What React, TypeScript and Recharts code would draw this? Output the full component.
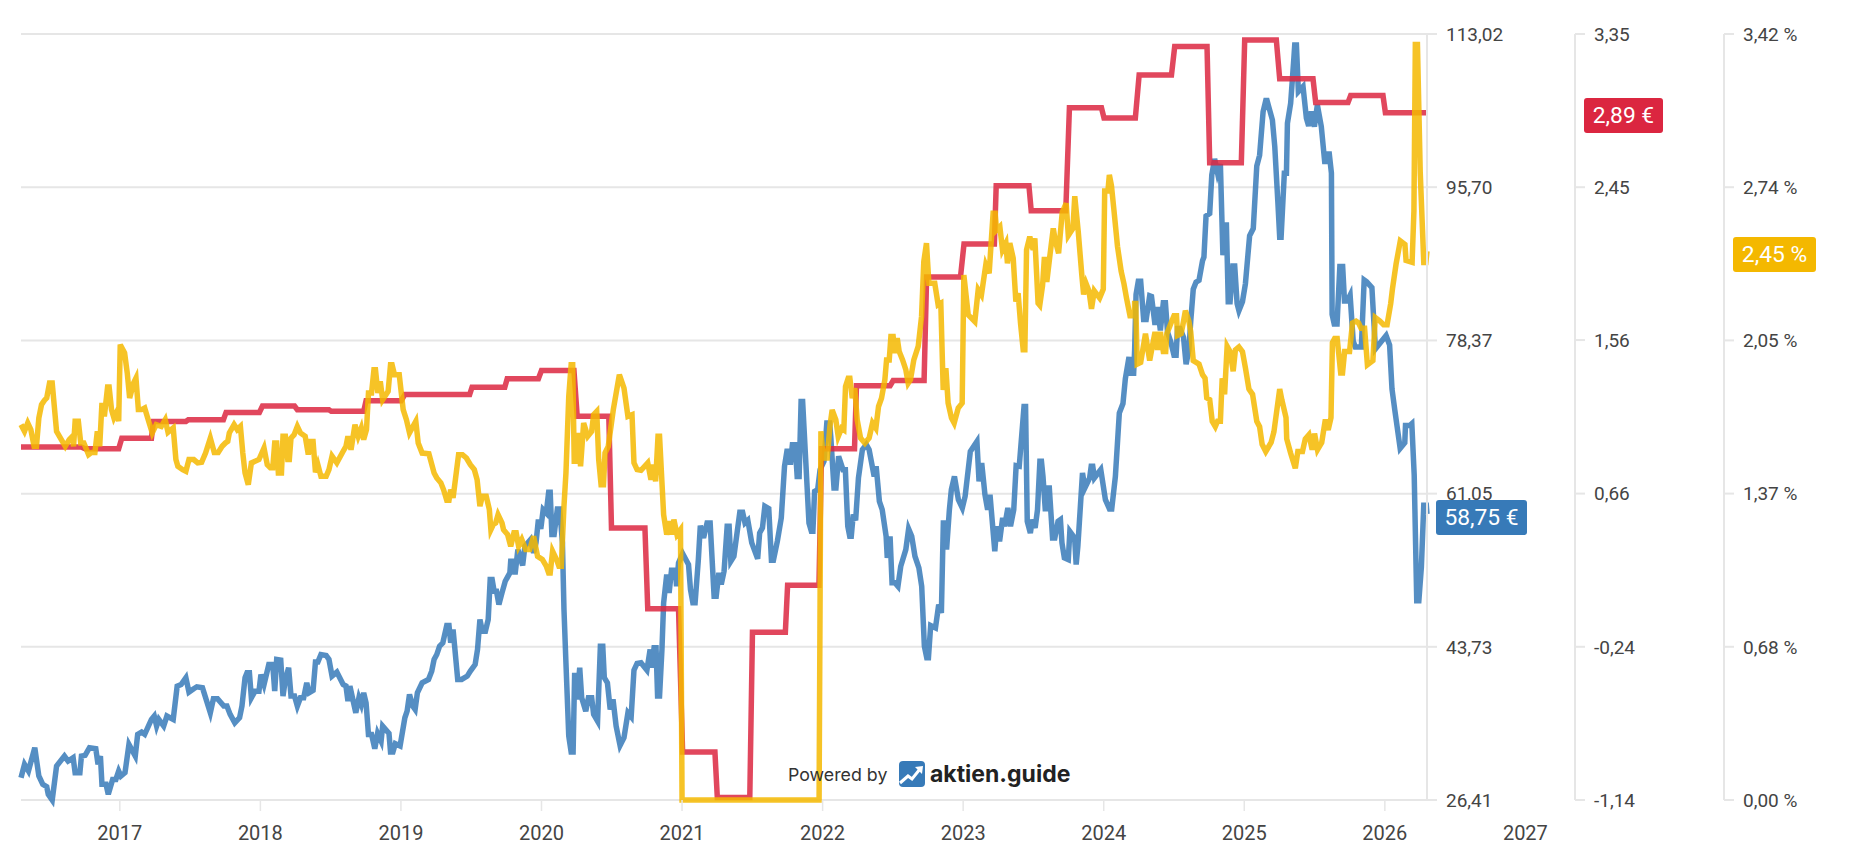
import React from "react";
import { LineChart, Line, XAxis, YAxis, CartesianGrid } from "recharts";

// Share price in EUR: [decimal year, value]
const pricePoints: [number, number][] = [
[2016.297,28.93],[2016.322,30.44],[2016.35,29.69],[2016.395,32.32],[2016.424,29.12],[2016.452,28.18],[2016.48,27.92],[2016.491,27.05],[2016.519,26.41],[2016.55,30.25],[2016.606,31.38],[2016.632,30.81],[2016.668,31.19],[2016.682,29.5],[2016.716,29.5],[2016.727,31.38],[2016.753,31.46],[2016.784,32.32],[2016.829,32.21],[2016.845,30.44],[2016.862,31.38],[2016.873,28.18],[2016.902,28.18],[2016.918,27.05],[2016.949,28.74],[2016.972,28.74],[2016.992,29.69],
[2017.008,29.12],[2017.037,29.5],[2017.065,32.7],[2017.11,31.38],[2017.127,33.83],[2017.155,34.09],[2017.177,33.83],[2017.225,35.52],[2017.245,35.9],[2017.262,34.77],[2017.278,35.52],[2017.312,34.77],[2017.335,35.9],[2017.38,35.52],[2017.408,39.29],[2017.436,39.47],[2017.47,40.23],[2017.492,38.61],[2017.526,38.99],[2017.548,39.21],[2017.588,39.1],[2017.644,36.27],[2017.666,37.86],[2017.695,37.86],[2017.74,37.03],[2017.762,37.03],[2017.785,36.09],[2017.818,35.14],[2017.852,35.71],[2017.869,37.03],[2017.891,40.23],[2017.905,40.79],[2017.922,40.79],[2017.936,37.97],[2017.962,38.72],[2017.99,38.72],
[2018.004,40.6],[2018.026,39.47],[2018.06,41.73],[2018.088,41.73],[2018.102,38.72],[2018.116,42.3],[2018.145,42.22],[2018.161,38.16],[2018.178,40.04],[2018.201,41.36],[2018.218,38.16],[2018.243,38.16],[2018.263,37.03],[2018.285,37.97],[2018.308,37.97],[2018.33,39.66],[2018.347,38.53],[2018.375,38.8],[2018.392,42],[2018.409,42],[2018.431,42.86],[2018.468,42.75],[2018.488,42.3],[2018.51,40.42],[2018.544,40.87],[2018.589,39.47],[2018.609,39.29],[2018.623,37.59],[2018.637,39.29],[2018.679,36.27],[2018.701,37.97],[2018.718,37.22],[2018.735,38.53],[2018.752,37.4],[2018.769,33.83],[2018.791,33.83],[2018.814,32.21],[2018.834,33.94],[2018.859,33.07],[2018.87,34.77],[2018.915,33.94],[2018.926,31.83],[2018.943,31.83],[2018.96,32.77],[2018.994,32.51],
[2019.028,35.71],[2019.044,36.46],[2019.061,38.34],[2019.084,37.03],[2019.101,36.65],[2019.117,38.53],[2019.151,39.66],[2019.196,40.04],[2019.219,40.98],[2019.236,42.3],[2019.255,42.86],[2019.275,43.8],[2019.298,44.18],[2019.326,46.14],[2019.342,46.14],[2019.354,44.18],[2019.371,45.69],[2019.404,40.04],[2019.432,40.04],[2019.472,40.42],[2019.494,40.98],[2019.528,41.73],[2019.545,43.43],[2019.562,46.82],[2019.579,45.5],[2019.601,45.5],[2019.621,46.82],[2019.635,51.33],[2019.649,51.33],[2019.663,50.02],[2019.68,50.02],[2019.697,48.51],[2019.719,49.83],[2019.742,51.14],[2019.775,52.09],[2019.781,53.4],[2019.804,53.4],[2019.812,51.9],[2019.832,54.72],[2019.866,52.92],[2019.882,55.1],[2019.922,55.85],[2019.944,54.35],[2019.961,55.48],[2019.978,58.11],[2019.995,57.06],
[2020.012,59.24],[2020.034,58.86],[2020.051,61.2],[2020.062,61.2],[2020.074,56.42],[2020.09,56.42],[2020.113,59.32],[2020.13,59.32],[2020.149,55.48],[2020.16,47.95],[2020.174,41.92],[2020.194,33.64],[2020.211,31.83],[2020.225,31.83],[2020.236,40.79],[2020.253,37.78],[2020.272,41.36],[2020.286,37.97],[2020.315,36.46],[2020.334,37.97],[2020.357,37.97],[2020.371,36.09],[2020.399,35.33],[2020.419,43.8],[2020.436,43.8],[2020.447,40.23],[2020.469,39.66],[2020.489,36.65],[2020.509,37.78],[2020.531,34.77],[2020.559,32.58],[2020.587,33.45],[2020.615,36.27],[2020.638,35.82],[2020.658,41.09],[2020.68,41.85],[2020.708,41.92],[2020.75,41.09],[2020.773,43.43],[2020.784,41.36],[2020.801,43.62],[2020.815,43.62],[2020.826,38.16],[2020.84,38.16],[2020.857,43.43],[2020.869,48.7],[2020.891,51.9],[2020.908,49.83],[2020.925,52.39],[2020.953,52.39],[2020.961,50.58],[2020.975,53.22],
[2021.004,54.27],[2021.046,53.03],[2021.06,50.21],[2021.077,48.7],[2021.093,48.7],[2021.116,53.59],[2021.13,57.43],[2021.153,56.04],[2021.178,57.73],[2021.2,57.73],[2021.228,49.45],[2021.243,49.45],[2021.262,52.09],[2021.279,50.77],[2021.299,52.28],[2021.321,57.36],[2021.335,57.36],[2021.347,53.4],[2021.369,53.97],[2021.411,58.94],[2021.431,58.94],[2021.448,57.73],[2021.468,58.03],[2021.496,55.48],[2021.538,53.67],[2021.552,56.6],[2021.572,57.17],[2021.589,59.62],[2021.617,59.35],[2021.636,53.52],[2021.65,53.52],[2021.678,55.66],[2021.706,58.3],[2021.729,64.14],[2021.746,65.83],[2021.763,65.83],[2021.771,64.32],[2021.785,66.58],[2021.805,66.58],[2021.819,63],[2021.833,63],[2021.847,71.47],[2021.858,71.47],[2021.881,64.51],[2021.903,57.73],[2021.92,56.79],[2021.931,56.79],[2021.943,61.31],[2021.965,61.5],[2021.982,63.76],
[2022.01,64.7],[2022.03,69.03],[2022.05,69.03],[2022.058,67.52],[2022.081,61.69],[2022.095,61.69],[2022.114,65.27],[2022.145,63.76],[2022.162,63.76],[2022.179,57.36],[2022.193,56.23],[2022.204,56.23],[2022.218,58.68],[2022.235,58.03],[2022.255,62.82],[2022.283,66.02],[2022.311,66.58],[2022.331,66.02],[2022.367,63],[2022.381,64.14],[2022.404,60.18],[2022.424,59.24],[2022.452,56.23],[2022.46,53.78],[2022.48,56.23],[2022.494,50.96],[2022.516,50.96],[2022.536,50.58],[2022.556,52.84],[2022.592,54.72],[2022.612,57.06],[2022.634,56.23],[2022.657,53.97],[2022.685,52.65],[2022.705,50.58],[2022.724,43.8],[2022.741,42.49],[2022.753,42.49],[2022.769,46.14],[2022.803,45.87],[2022.826,48.51],[2022.845,47.57],[2022.859,57.73],[2022.874,57.73],[2022.882,54.72],[2022.902,59.24],[2022.916,61.5],[2022.938,63],[2022.966,60.37],[2022.994,59.43],
[2023.014,60.75],[2023.051,65.83],[2023.098,66.96],[2023.113,62.44],[2023.132,64.51],[2023.155,60.93],[2023.174,59.24],[2023.191,60.93],[2023.225,54.53],[2023.239,57.36],[2023.259,55.66],[2023.281,58.3],[2023.295,57.36],[2023.318,59.43],[2023.337,57.36],[2023.36,59.24],[2023.377,64.21],[2023.399,64.14],[2023.416,67.52],[2023.433,70.91],[2023.444,70.91],[2023.456,57.92],[2023.478,56.6],[2023.492,58.11],[2023.512,57.17],[2023.529,59.24],[2023.546,64.7],[2023.557,64.7],[2023.568,63],[2023.585,59.05],[2023.602,61.69],[2023.613,61.69],[2023.636,56.04],[2023.652,56.04],[2023.675,57.92],[2023.692,58.11],[2023.703,55.48],[2023.72,53.78],[2023.748,53.59],[2023.759,56.79],[2023.793,56.04],[2023.804,53.03],[2023.816,55.1],[2023.849,63.38],[2023.866,61.69],[2023.9,62.82],[2023.911,64.14],[2023.922,64.14],[2023.934,62.82],[2023.979,63.76],
[2024.012,60.37],[2024.041,59.32],[2024.057,59.32],[2024.083,63],[2024.111,70.16],[2024.137,71.24],[2024.154,74.06],[2024.18,76.49],[2024.195,74.67],[2024.213,74.67],[2024.22,77.29],[2024.23,83.55],[2024.246,85.05],[2024.263,85.05],[2024.284,80.73],[2024.302,80.73],[2024.327,83.43],[2024.34,83.35],[2024.365,80.12],[2024.383,82.14],[2024.403,79.51],[2024.424,82.62],[2024.439,82.62],[2024.454,79.31],[2024.479,78.1],[2024.5,76.69],[2024.515,76.69],[2024.525,79.72],[2024.543,79.72],[2024.568,78.71],[2024.586,75.68],[2024.606,77.29],[2024.619,80.53],[2024.637,84.16],[2024.657,84.97],[2024.678,85.17],[2024.703,87.39],[2024.713,87.8],[2024.728,92.44],[2024.754,92.72],[2024.769,97.09],[2024.789,98.9],[2024.81,97.29],[2024.83,98.3],[2024.848,88],[2024.86,91.43],[2024.873,91.43],[2024.886,82.75],[2024.899,82.75],[2024.919,86.79],[2024.932,86.79],[2024.949,82.55],[2024.962,81.74],[2024.987,82.75],
[2025.008,84.77],[2025.038,90.22],[2025.064,91.03],[2025.089,98.1],[2025.109,99.3],[2025.134,104.25],[2025.153,105.49],[2025.162,105.49],[2025.2,103.31],[2025.217,100.29],[2025.24,93.7],[2025.252,90.05],[2025.262,90.05],[2025.285,97.28],[2025.3,97.28],[2025.307,102.93],[2025.33,105.19],[2025.352,110.08],[2025.359,111.78],[2025.371,111.78],[2025.385,106.51],[2025.418,107.07],[2025.442,103.49],[2025.458,102.63],[2025.477,104.25],[2025.499,102.55],[2025.52,105],[2025.548,102.55],[2025.572,98.6],[2025.589,98.6],[2025.603,99.73],[2025.62,97.28],[2025.625,81.31],[2025.64,80.23],[2025.66,80.23],[2025.68,86.73],[2025.7,86.73],[2025.713,82.83],[2025.733,82.83],[2025.753,83.48],[2025.775,78.28],[2025.79,77.63],[2025.833,77.63],[2025.853,85.21],[2025.871,85],[2025.908,84.35],[2025.933,77.42],
[2026.009,78.93],[2026.034,77.85],[2026.051,72.87],[2026.071,70.49],[2026.109,66.16],[2026.142,66.81],[2026.147,68.76],[2026.177,68.76],[2026.192,68.97],[2026.209,63.13],[2026.227,48.93],[2026.242,48.93],[2026.26,52.74],[2026.277,59.75],[2026.295,59.75],[2026.3,58.75],
];

// Dividend per share in EUR: [decimal year, value]
const dividendPoints: [number, number][] = [
[2016.297,0.929],[2016.724,0.929],[2016.753,0.919],[2016.992,0.919],[2017.014,0.98],[2017.225,0.98],[2017.239,1.079],[2017.47,1.079],[2017.487,1.089],[2017.737,1.089],[2017.756,1.132],[2017.993,1.132],[2018.015,1.169],[2018.243,1.169],[2018.263,1.148],[2018.488,1.148],[2018.505,1.138],[2018.735,1.138],[2018.752,1.2],[2019.002,1.2],[2019.028,1.237],[2019.489,1.237],[2019.506,1.28],[2019.739,1.28],[2019.756,1.329],[2019.978,1.329],[2020.0,1.378],[2020.231,1.378],[2020.254,1.109],[2020.479,1.109],[2020.498,0.455],[2020.736,0.455],[2020.756,-0.019],[2020.975,-0.019],[2021.004,-0.859],[2021.234,-0.859],[2021.251,-1.126],[2021.482,-1.126],[2021.501,-0.156],[2021.735,-0.156],[2021.751,0.119],[2021.974,0.119],[2021.993,0.919],[2022.227,0.919],[2022.241,1.288],[2022.48,1.288],[2022.502,1.319],[2022.722,1.319],[2022.74,1.926],[2022.981,1.926],[2023.006,2.119],[2023.222,2.119],[2023.235,2.46],[2023.468,2.46],[2023.484,2.314],[2023.73,2.314],[2023.756,2.917],[2023.984,2.917],[2024.002,2.858],[2024.225,2.858],[2024.252,3.11],[2024.482,3.11],[2024.505,3.276],[2024.735,3.276],[2024.754,2.596],[2024.979,2.596],[2025.003,3.315],[2025.228,3.315],[2025.252,3.087],[2025.489,3.087],[2025.508,2.948],[2025.738,2.948],[2025.757,2.989],[2025.987,2.989],[2026.004,2.889],[2026.3,2.889],
];

// Dividend yield in %: [decimal year, value]
const yieldPoints: [number, number][] = [
[2016.297,1.676],[2016.322,1.646],[2016.345,1.683],[2016.367,1.654],[2016.39,1.579],[2016.407,1.579],[2016.424,1.706],[2016.443,1.765],[2016.463,1.784],[2016.48,1.795],[2016.5,1.862],[2016.519,1.862],[2016.536,1.743],[2016.55,1.646],[2016.584,1.609],[2016.612,1.579],[2016.64,1.609],[2016.663,1.624],[2016.671,1.579],[2016.682,1.691],[2016.705,1.691],[2016.722,1.594],[2016.744,1.594],[2016.778,1.542],[2016.8,1.552],[2016.823,1.552],[2016.84,1.646],[2016.857,1.579],[2016.873,1.773],[2016.89,1.713],[2016.913,1.844],[2016.924,1.844],[2016.941,1.743],[2016.958,1.706],[2016.98,1.735],[2016.992,1.691],
[2017.003,2.033],[2017.034,1.996],[2017.053,1.906],[2017.07,1.795],[2017.098,1.862],[2017.115,1.884],[2017.132,1.743],[2017.155,1.743],[2017.177,1.75],[2017.202,1.698],[2017.231,1.639],[2017.259,1.676],[2017.295,1.668],[2017.323,1.698],[2017.343,1.642],[2017.38,1.661],[2017.399,1.52],[2017.413,1.49],[2017.447,1.475],[2017.47,1.468],[2017.492,1.52],[2017.526,1.52],[2017.554,1.505],[2017.582,1.508],[2017.61,1.549],[2017.644,1.616],[2017.672,1.552],[2017.7,1.552],[2017.728,1.579],[2017.751,1.594],[2017.768,1.601],[2017.779,1.639],[2017.813,1.676],[2017.835,1.654],[2017.858,1.668],[2017.875,1.549],[2017.891,1.46],[2017.914,1.408],[2017.936,1.505],[2017.962,1.512],[2017.99,1.52],
[2018.026,1.572],[2018.049,1.497],[2018.071,1.483],[2018.088,1.483],[2018.102,1.594],[2018.116,1.594],[2018.128,1.46],[2018.15,1.46],[2018.161,1.624],[2018.178,1.624],[2018.195,1.52],[2018.206,1.52],[2018.218,1.616],[2018.24,1.631],[2018.263,1.668],[2018.285,1.639],[2018.319,1.624],[2018.341,1.542],[2018.355,1.601],[2018.375,1.601],[2018.392,1.463],[2018.409,1.497],[2018.431,1.445],[2018.468,1.445],[2018.488,1.475],[2018.51,1.535],[2018.544,1.505],[2018.589,1.557],[2018.609,1.579],[2018.623,1.624],[2018.645,1.564],[2018.673,1.676],[2018.696,1.624],[2018.718,1.661],[2018.735,1.609],[2018.755,1.654],[2018.769,1.817],[2018.791,1.817],[2018.808,1.921],[2018.819,1.921],[2018.836,1.817],[2018.853,1.869],[2018.87,1.787],[2018.909,1.825],[2018.926,1.943],[2018.937,1.943],[2018.954,1.899],[2018.988,1.899],
[2019.016,1.743],[2019.039,1.698],[2019.061,1.639],[2019.106,1.691],[2019.123,1.594],[2019.151,1.549],[2019.199,1.546],[2019.236,1.46],[2019.255,1.438],[2019.284,1.416],[2019.303,1.386],[2019.326,1.338],[2019.342,1.338],[2019.354,1.386],[2019.371,1.349],[2019.41,1.542],[2019.438,1.542],[2019.466,1.527],[2019.494,1.497],[2019.522,1.475],[2019.542,1.43],[2019.562,1.312],[2019.579,1.356],[2019.607,1.356],[2019.629,1.297],[2019.64,1.207],[2019.657,1.23],[2019.674,1.237],[2019.691,1.274],[2019.719,1.237],[2019.73,1.207],[2019.759,1.185],[2019.781,1.133],[2019.804,1.193],[2019.82,1.193],[2019.837,1.133],[2019.86,1.163],[2019.888,1.118],[2019.916,1.118],[2019.944,1.178],[2019.972,1.088],
[2020.006,1.074],[2020.034,1.044],[2020.051,1.014],[2020.062,1.014],[2020.079,1.111],[2020.107,1.074],[2020.124,1.044],[2020.141,1.044],[2020.16,1.312],[2020.174,1.46],[2020.194,1.802],[2020.211,1.943],[2020.222,1.943],[2020.233,1.512],[2020.25,1.512],[2020.264,1.639],[2020.278,1.49],[2020.3,1.683],[2020.329,1.624],[2020.357,1.646],[2020.371,1.72],[2020.393,1.735],[2020.407,1.52],[2020.424,1.408],[2020.441,1.408],[2020.452,1.549],[2020.475,1.579],[2020.511,1.743],[2020.554,1.899],[2020.587,1.839],[2020.615,1.713],[2020.644,1.72],[2020.658,1.505],[2020.68,1.475],[2020.708,1.472],[2020.756,1.505],[2020.779,1.43],[2020.793,1.497],[2020.812,1.423],[2020.829,1.624],[2020.84,1.624],[2020.869,1.274],[2020.891,1.185],[2020.914,1.245],[2020.928,1.185],[2020.942,1.252],[2020.964,1.185],[2020.989,1.207],
[2021.0,0],[2021.975,0],
[2021.988,1.646],[2022.004,1.527],[2022.033,1.527],[2022.052,1.668],[2022.068,1.742],[2022.094,1.698],[2022.111,1.623],[2022.135,1.66],[2022.151,1.653],[2022.163,1.846],[2022.182,1.883],[2022.194,1.883],[2022.211,1.794],[2022.229,1.839],[2022.246,1.698],[2022.27,1.616],[2022.301,1.593],[2022.331,1.616],[2022.355,1.683],[2022.379,1.66],[2022.398,1.757],[2022.419,1.794],[2022.443,1.876],[2022.455,1.965],[2022.474,1.965],[2022.486,2.069],[2022.502,2.069],[2022.514,1.995],[2022.531,2.062],[2022.545,2.002],[2022.569,1.965],[2022.592,1.921],[2022.609,1.861],[2022.625,1.876],[2022.649,1.965],[2022.68,2.025],[2022.704,2.159],[2022.72,2.404],[2022.739,2.486],[2022.756,2.307],[2022.798,2.307],[2022.822,2.211],[2022.841,2.218],[2022.858,1.831],[2022.877,1.928],[2022.893,1.772],[2022.917,1.705],[2022.936,1.683],[2022.965,1.75],[2022.993,1.772],
[2023.005,2.344],[2023.036,2.166],[2023.083,2.136],[2023.107,2.278],[2023.13,2.255],[2023.161,2.389],[2023.185,2.352],[2023.213,2.62],[2023.228,2.62],[2023.237,2.545],[2023.261,2.56],[2023.28,2.456],[2023.304,2.486],[2023.315,2.396],[2023.332,2.486],[2023.356,2.419],[2023.375,2.225],[2023.391,2.263],[2023.408,2.129],[2023.427,2.01],[2023.439,2.01],[2023.451,2.456],[2023.474,2.515],[2023.498,2.456],[2023.51,2.508],[2023.533,2.218],[2023.545,2.209],[2023.565,2.297],[2023.578,2.425],[2023.595,2.313],[2023.616,2.425],[2023.641,2.552],[2023.656,2.496],[2023.679,2.441],[2023.705,2.624],[2023.733,2.664],[2023.748,2.52],[2023.781,2.552],[2023.794,2.696],[2023.819,2.536],[2023.844,2.345],[2023.857,2.257],[2023.875,2.305],[2023.895,2.273],[2023.913,2.193],[2023.933,2.273],[2023.971,2.241],[2023.997,2.281],
[2024.007,2.719],[2024.03,2.719],[2024.04,2.791],[2024.055,2.743],[2024.073,2.632],[2024.098,2.472],[2024.124,2.361],[2024.144,2.305],[2024.162,2.241],[2024.187,2.162],[2024.218,2.162],[2024.22,2.217],[2024.228,2.217],[2024.238,1.946],[2024.263,1.954],[2024.297,2.082],[2024.327,1.962],[2024.365,2.09],[2024.383,2.01],[2024.403,2.09],[2024.424,2.002],[2024.441,2.002],[2024.449,2.082],[2024.479,2.13],[2024.5,2.162],[2024.518,2.162],[2024.525,2.074],[2024.551,2.082],[2024.568,2.138],[2024.581,2.185],[2024.606,2.138],[2024.619,2.09],[2024.637,1.962],[2024.678,1.946],[2024.703,1.899],[2024.721,1.883],[2024.733,1.795],[2024.754,1.787],[2024.772,1.691],[2024.794,1.667],[2024.81,1.691],[2024.83,1.691],[2024.843,1.883],[2024.86,1.811],[2024.878,2.026],[2024.899,2.002],[2024.921,1.914],[2024.937,2.01],[2024.962,2.023],[2024.987,2.002],
[2025.008,1.93],[2025.033,1.835],[2025.059,1.811],[2025.089,1.691],[2025.109,1.667],[2025.127,1.588],[2025.153,1.556],[2025.191,1.596],[2025.211,1.644],[2025.252,1.835],[2025.267,1.787],[2025.297,1.707],[2025.302,1.612],[2025.33,1.548],[2025.363,1.481],[2025.381,1.556],[2025.414,1.556],[2025.434,1.612],[2025.46,1.631],[2025.483,1.564],[2025.5,1.636],[2025.521,1.564],[2025.551,1.596],[2025.577,1.699],[2025.597,1.652],[2025.617,1.707],[2025.627,2.042],[2025.643,2.061],[2025.661,2.061],[2025.686,1.907],[2025.699,1.907],[2025.714,2.002],[2025.749,2.002],[2025.77,2.13],[2025.795,2.138],[2025.813,2.13],[2025.831,2.106],[2025.856,2.106],[2025.876,1.943],[2025.915,1.962],[2025.932,2.154],[2025.965,2.138],[2025.991,2.122],
[2026.016,2.122],[2026.042,2.217],[2026.054,2.281],[2026.08,2.393],[2026.11,2.496],[2026.143,2.48],[2026.151,2.409],[2026.194,2.401],[2026.207,2.63],[2026.217,3.373],[2026.232,3.373],[2026.252,2.8],[2026.277,2.4],[2026.292,2.4],[2026.3,2.45],
];

const yearTicks = [2017, 2018, 2019, 2020, 2021, 2022, 2023, 2024, 2025, 2026, 2027];
const priceTicks = [26.41, 43.73, 61.05, 78.37, 95.7, 113.02];
const dividendTicks = [-1.14, -0.242, 0.656, 1.556, 2.452, 3.35];
const yieldTicks = [0, 0.684, 1.368, 2.052, 2.736, 3.42];

const toRows = (pts: [number, number][]) => pts.map(([t, v]) => ({ t, v }));
const comma = (n: number) => n.toFixed(2).replace(".", ",");

const GRID = "#e6e6e6";
const TEXT = "#444444";
const BLUE = "#377ab8";
const RED = "#dc2741";
const YELLOW = "#f4b800";
const FONT = "Roboto, sans-serif";

function YearTick(props: any) {
  const { x, payload } = props;
  return (
    <g>
      {payload.value < 2027 && <line x1={x} x2={x} y1={800} y2={811} stroke={GRID} strokeWidth={1.5} />}
      <text x={x} y={833} textAnchor="middle" dominantBaseline="central" fontFamily={FONT} fontSize={20} fill={TEXT}>
        {payload.value}
      </text>
    </g>
  );
}

const yTickStyle = { fontFamily: FONT, fontSize: 19, fill: TEXT };
const axisStroke = { stroke: GRID, strokeWidth: 2 };

function Badge({ left, top, width, color, text }: { left: number; top: number; width: number; color: string; text: string }) {
  return (
    <div
      style={{
        position: "absolute", left, top, width, height: 35, background: color, borderRadius: 3,
        color: "#fff", fontFamily: FONT, fontSize: 22.8, lineHeight: "36px", textAlign: "center", whiteSpace: "nowrap",
      }}
    >
      {text}
    </div>
  );
}

export default function App() {
  return (
    <div style={{ position: "absolute", left: 0, top: 0, width: 1853, height: 868, background: "#fff", overflow: "hidden" }}>
      <LineChart width={1853} height={868} margin={{ top: 34, right: 0, bottom: 0, left: 21 }}>
        <CartesianGrid yAxisId="axisA" vertical={false} stroke={GRID} strokeWidth={2} />
        <XAxis
          xAxisId={0}
          dataKey="t"
          type="number"
          domain={[2016.297, 2026.297]}
          ticks={yearTicks}
          interval={0}
          height={68}
          axisLine={false}
          tickLine={false}
          tick={<YearTick />}
          allowDuplicatedCategory={false}
        />
        <YAxis
          yAxisId="axisA"
          orientation="right"
          type="number"
          domain={[26.41, 113.02]}
          ticks={priceTicks}
          interval={0}
          width={148}
          axisLine={axisStroke}
          tickSize={10}
          tickMargin={9}
          tickLine={axisStroke}
          tick={yTickStyle}
          tickFormatter={comma}
        />
        <YAxis
          yAxisId="axisB"
          orientation="right"
          type="number"
          domain={[-1.14, 3.35]}
          ticks={dividendTicks}
          interval={0}
          width={149}
          axisLine={axisStroke}
          tickSize={10}
          tickMargin={9}
          tickLine={axisStroke}
          tick={yTickStyle}
          tickFormatter={comma}
        />
        <YAxis
          yAxisId="axisC"
          orientation="right"
          type="number"
          domain={[0, 3.42]}
          ticks={yieldTicks}
          interval={0}
          width={129}
          axisLine={axisStroke}
          tickSize={10}
          tickMargin={9}
          tickLine={axisStroke}
          tick={yTickStyle}
          tickFormatter={(v: number) => `${comma(v)} %`}
        />
        <Line yAxisId="axisA" data={toRows(pricePoints)} dataKey="v" type="linear" stroke={BLUE} strokeOpacity={0.85} strokeWidth={5.5} dot={false} activeDot={false} isAnimationActive={false} />
        <Line yAxisId="axisB" data={toRows(dividendPoints)} dataKey="v" type="linear" stroke={RED} strokeOpacity={0.85} strokeWidth={5.5} dot={false} activeDot={false} isAnimationActive={false} />
        <Line yAxisId="axisC" data={toRows(yieldPoints)} dataKey="v" type="linear" stroke={YELLOW} strokeOpacity={0.85} strokeWidth={5.5} dot={false} activeDot={false} isAnimationActive={false} />
      </LineChart>

      <Badge left={1436} top={500} width={91} color={BLUE} text="58,75 €" />
      <Badge left={1584} top={98} width={79} color="#db2640" text="2,89 €" />
      <Badge left={1733} top={237} width={83} color={YELLOW} text="2,45 %" />

      <div style={{ position: "absolute", left: 788, top: 761, height: 26, display: "flex", alignItems: "center", color: "#333", pointerEvents: "none" }}>
        <span style={{ fontFamily: "Inter, Roboto, sans-serif", fontSize: 17.8, width: 111, whiteSpace: "nowrap" }}>Powered by</span>
        <svg width={26} height={26} viewBox="0 0 26 26" style={{ display: "block" }}>
          <rect width={26} height={26} rx={4} fill={BLUE} />
          <path d="M1 22 L9 15 L13 18 L21 8" fill="none" stroke="#fff" strokeWidth={3} />
          <path d="M16 6 L24 5 L23 13 Z" fill="#fff" />
        </svg>
        <span style={{ fontFamily: "Inter, sans-serif", fontWeight: 700, fontSize: 23, color: "#222", marginLeft: 5 }}>aktien.guide</span>
      </div>
    </div>
  );
}
